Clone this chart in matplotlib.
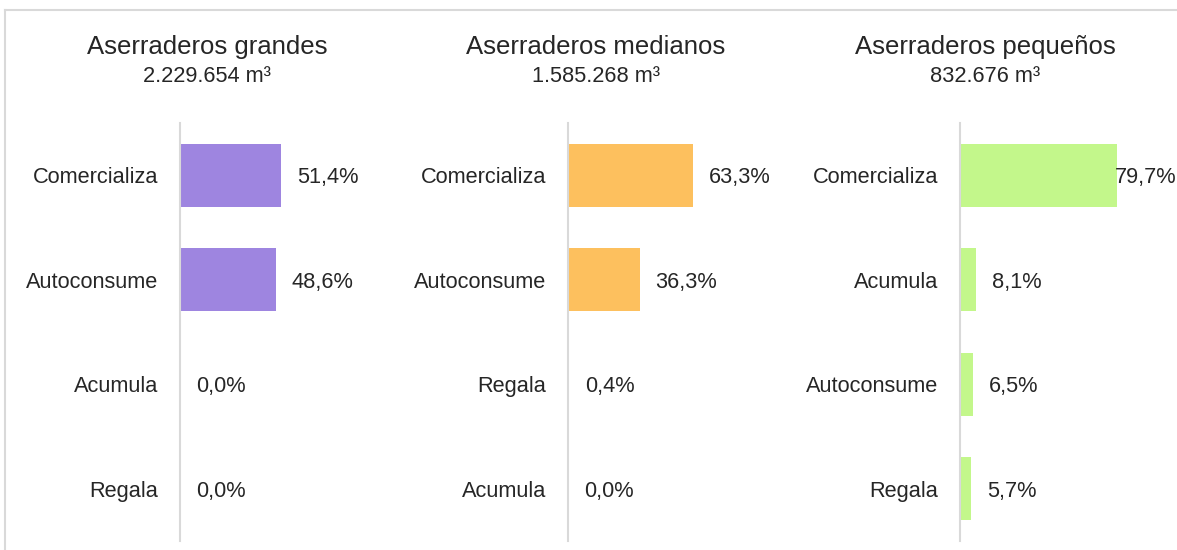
import matplotlib.pyplot as plt
from matplotlib.lines import Line2D

plt.rcParams["font.family"] = ["Liberation Sans", "DejaVu Sans"]

TITLES = ["Aserraderos grandes", "Aserraderos medianos", "Aserraderos pequeños"]
VOLUMES = ["2.229.654 m³", "1.585.268 m³", "832.676 m³"]

cats_grandes = ["Comercializa", "Autoconsume", "Acumula", "Regala"]
vals_grandes = [51.4, 48.6, 0.0, 0.0]
cats_medianos = ["Comercializa", "Autoconsume", "Regala", "Acumula"]
vals_medianos = [63.3, 36.3, 0.4, 0.0]
cats_pequenos = ["Comercializa", "Acumula", "Autoconsume", "Regala"]
vals_pequenos = [79.7, 8.1, 6.5, 5.7]

COLORS = ["#9E85E0", "#FDC05E", "#C3F78B"]
TEXT = "#262626"
GRID = "#D9D9D9"

W, H = 1177, 550
fig = plt.figure(figsize=(W / 100, H / 100), dpi=100)

# light frame (top and left edges only visible in the reference)
fig.add_artist(Line2D([5 / W, 1], [1 - 10 / H, 1 - 10 / H], color=GRID, lw=1.5,
                      transform=fig.transFigure))
fig.add_artist(Line2D([5 / W, 5 / W], [0, 1 - 10 / H], color=GRID, lw=1.5,
                      transform=fig.transFigure))

panels = [(cats_grandes, vals_grandes), (cats_medianos, vals_medianos),
          (cats_pequenos, vals_pequenos)]
ax_left_px = [180, 568, 960]
title_x_px = [207, 596, 985]
ax_w_px = 217
XMAX = 110

for i, (cats, vals) in enumerate(panels):
    ax = fig.add_axes([ax_left_px[i] / W, 9 / H, ax_w_px / W, (541 - 123) / H])
    y = list(range(len(cats)))
    ax.barh(y, vals, height=0.6, color=COLORS[i])
    ax.set_xlim(0, XMAX)
    ax.set_ylim(len(cats) - 0.5, -0.5)
    ax.set_yticks(y)
    ax.set_yticklabels(cats, fontsize=15.7, color=TEXT)
    ax.tick_params(axis="y", length=0, pad=15.5)
    ax.set_xticks([])
    for s in ["top", "right", "bottom"]:
        ax.spines[s].set_visible(False)
    ax.spines["left"].set_color(GRID)
    ax.spines["left"].set_linewidth(1.5)
    ax.patch.set_alpha(0)
    for yy, v in zip(y, vals):
        lab = f"{v:.1f}".replace(".", ",") + "%"
        if v > 70:
            ax.text(XMAX, yy, lab, ha="right", va="center_baseline", fontsize=15.7, color=TEXT)
        else:
            ax.annotate(lab, (v, yy), xytext=(11.5, 0), textcoords="offset points",
                        ha="left", va="center_baseline", fontsize=15.7, color=TEXT)
    fig.text(title_x_px[i] / W, 1 - 47 / H, TITLES[i], ha="center", va="center",
             fontsize=18.5, color=TEXT)
    fig.text(title_x_px[i] / W, 1 - 76 / H, VOLUMES[i], ha="center", va="center",
             fontsize=15.7, color=TEXT)

fig.savefig("out.png", dpi=100)
